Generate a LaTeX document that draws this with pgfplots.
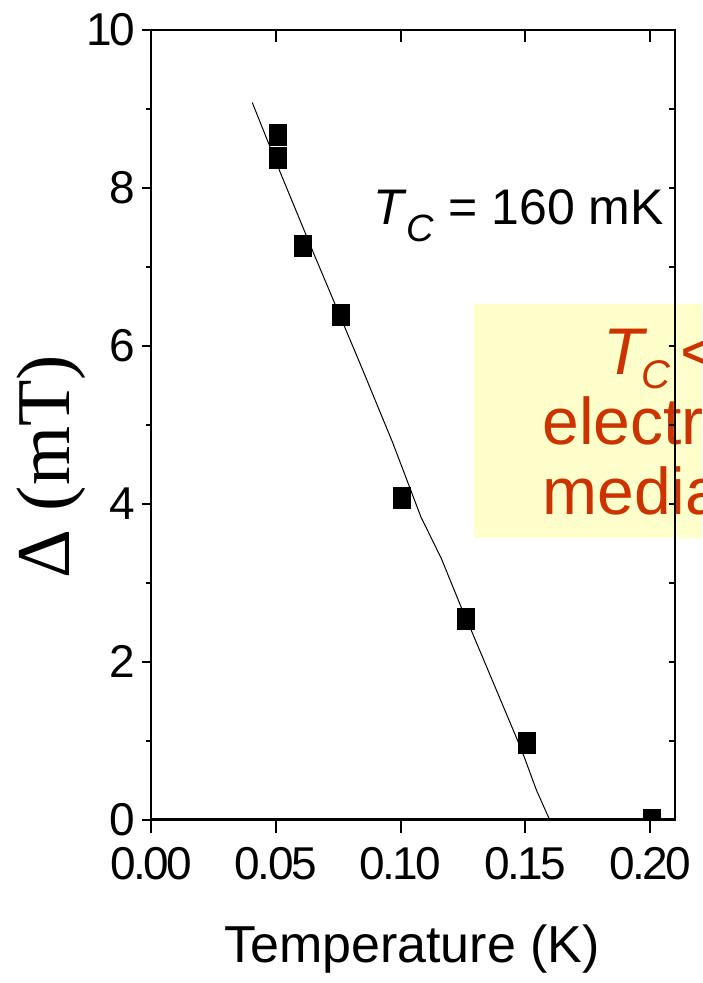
\documentclass[border=0pt]{standalone}
\usepackage{fontspec}
\setmainfont{Liberation Sans}
\newfontfamily\tickfont[LetterSpace=-5.5]{Liberation Sans}
\newfontfamily\seriffont{Liberation Serif}
\usepackage{pgfplots}
\pgfplotsset{compat=1.18}
\definecolor{boxyellow}{HTML}{FFFFCC}
\definecolor{boxred}{HTML}{CC3300}
\begin{document}
\begin{tikzpicture}
\begin{scope}
\clip (-75.5pt,-81.75pt) rectangle (275.5pt,409.75pt);
\fill[boxyellow] (161.5pt,140.75pt) rectangle (300pt,257.75pt);
\node[anchor=base west, inner sep=0pt, text=boxred, font=\fontsize{33}{36}\selectfont] at (226pt,222.25pt) {\textit{T}\kern-3pt\raisebox{-7pt}{\fontsize{20}{22}\selectfont\textit{C}}\kern5pt< 1 K};
\node[anchor=base west, inner sep=0pt, text=boxred, font=\fontsize{33}{36}\selectfont] at (195.5pt,187.25pt) {electron};
\node[anchor=base west, inner sep=0pt, text=boxred, font=\fontsize{33}{36}\selectfont] at (195.5pt,152.25pt) {mediated};
\end{scope}
\begin{axis}[
  at={(0,0)}, anchor=south west,
  scale only axis, width=262pt, height=394.75pt,
  xmin=0, xmax=0.21, ymin=0, ymax=10,
  clip marker paths=true,
  axis line style={line width=1pt},
  every tick/.style={black, line width=1pt},
  tick align=outside,
  xtick pos=bottom, ytick pos=left,
  xtick={0,0.05,0.1,0.15,0.2},
  ytick={0,2,4,6,8,10},
  minor ytick={1,3,5,7,9},
  xtick style={/pgfplots/major tick length=6.5pt},
  ytick style={/pgfplots/major tick length=4.5pt, /pgfplots/minor tick length=2.25pt},
  /pgf/number format/assume math mode=true,
  xticklabel={\pgfmathprintnumber[fixed,fixed zerofill,precision=2]{\tick}},
  yticklabel={\pgfmathprintnumber[fixed,precision=0]{\tick}},
  ticklabel style={font=\tickfont\fontsize{23}{26}\selectfont},
  xticklabel style={yshift=-6pt},
  xlabel={Temperature (K)},
  xlabel style={font=\fontsize{26}{30}\selectfont, at={(axis description cs:0.498,0)}, anchor=base, yshift=-71.25pt},
  ylabel={\seriffont Δ (mT)},
  ylabel style={font=\fontsize{38}{42}\selectfont, at={(axis description cs:-0.1908,0.4465)}, anchor=center, rotate=0},
]
\addplot[black, line width=0.5pt] coordinates {
(0.0406,9.08)(0.0511,8.25)(0.0652,7.17)(0.0776,6.24)(0.0849,5.69)(0.0969,4.77)
(0.1082,3.83)(0.1163,3.31)(0.1243,2.69)(0.1283,2.40)(0.1464,1.04)
(0.1496,0.79)(0.1545,0.37)(0.1597,0)};
\addplot[only marks, mark=square*, mark size=4.25pt, mark options={black, yscale=1.235}] coordinates {
(0.0507,8.67)(0.0507,8.38)(0.0609,7.27)(0.0762,6.39)(0.1007,4.07)(0.1262,2.54)(0.1506,0.975)(0.2008,0)};
\end{axis}
\begin{axis}[
  at={(0,0)}, anchor=south west,
  scale only axis, width=262pt, height=394.75pt,
  xmin=0, xmax=0.21, ymin=0, ymax=10,
  axis line style={line width=1pt},
  every tick/.style={black, line width=1pt},
  tick align=inside,
  xtick pos=top, ytick pos=right,
  xtick={0,0.05,0.1,0.15,0.2},
  ytick={0,1,2,3,4,5,6,7,8,9,10},
  xticklabels={}, yticklabels={},
  xtick style={/pgfplots/major tick length=6pt},
  ytick style={/pgfplots/major tick length=3pt},
]
\end{axis}
\node[anchor=base west, inner sep=0pt, font=\fontsize{25}{28}\selectfont] at (111pt,297.25pt) {\textit{T}\raisebox{-8.5pt}{\fontsize{19}{21}\selectfont\textit{C}} = 160 mK};
\pgfresetboundingbox
\useasboundingbox (-75.5pt,-81.75pt) rectangle (275.5pt,409.75pt);
\end{tikzpicture}
\end{document}
